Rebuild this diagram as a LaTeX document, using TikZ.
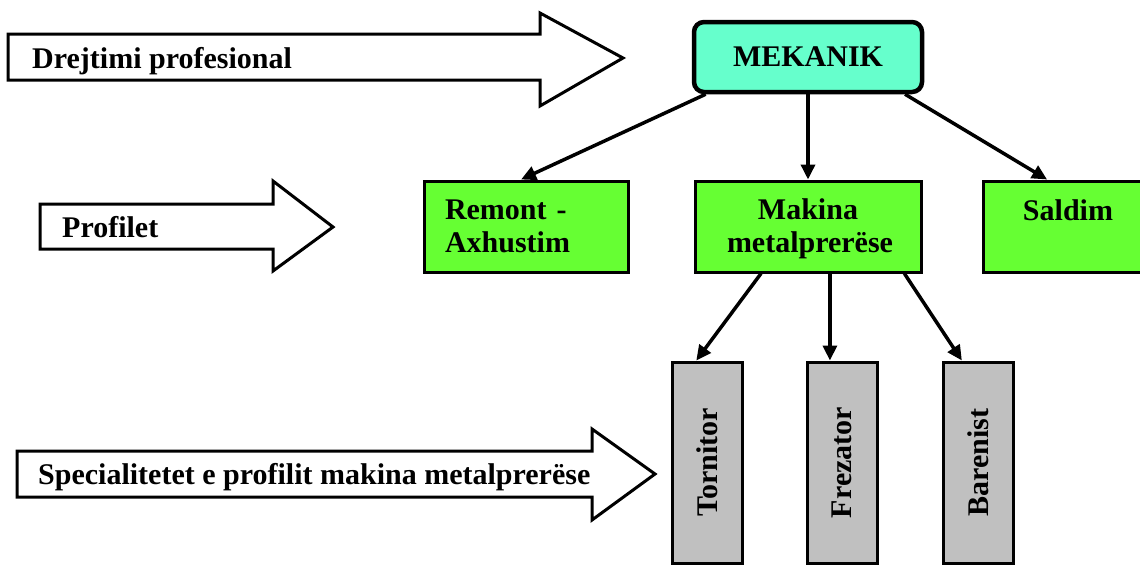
\documentclass[tikz,border=0pt]{standalone}
\usepackage{fontspec}
\setmainfont{Liberation Serif}
\usetikzlibrary{arrows.meta,calc,positioning}
\definecolor{mekcol}{HTML}{66FFCC}
\definecolor{profcol}{HTML}{66FF33}
\definecolor{speccol}{HTML}{C0C0C0}
\tikzset{
  topbox/.style={draw,line width=4.5pt,rounded corners=10pt,fill=mekcol,minimum width=228pt,minimum height=70pt},
  profbox/.style={draw,line width=3pt,fill=profcol,minimum width=204pt,minimum height=91pt,text width=162pt},
  specbox/.style={draw,line width=3pt,fill=speccol,minimum width=70pt,minimum height=201pt},
  bigarrow/.style={draw,line width=3pt,fill=white},
  conn/.style={-{Triangle[length=15pt,width=14pt]},line width=3.5pt},
  lbl/.style={anchor=base west,inner sep=0pt},
  every node/.style={font=\fontsize{30}{33}\selectfont\bfseries}
}

\begin{document}
\begin{tikzpicture}[x=1pt,y=-1pt]
\useasboundingbox (0,0) rectangle (1140,565);
\clip (0,0) rectangle (1140,565);

% block arrows on the left
\draw[bigarrow] (8,34) -- (540,34) -- (540,13) -- (623,58) -- (540,106) -- (540,80) -- (8,80) -- cycle;
\node[lbl] (drejt) at (32,68) {Drejtimi profesional};
\draw[bigarrow] (40,204) -- (273,204) -- (273,181) -- (333,227) -- (273,271) -- (273,249) -- (40,249) -- cycle;
\node[lbl] (prof) at (62,237) {Profilet};
\draw[bigarrow] (17,451) -- (592,451) -- (592,429) -- (655,474) -- (592,520) -- (592,497) -- (17,497) -- cycle;
\node[lbl] (spec) at (38,484) {Specialitetet e profilit makina metalprerëse};

% tree
\node[topbox] (mek) at (808,57) {MEKANIK};
\node[profbox,align=left] (rem) at (526,226.5) {Remont -\\Axhustim};
\node[profbox,align=center,minimum width=226pt,text height=26pt] (mak) at (808,226.5) {Makina\\metalprerëse};
\node[profbox,align=center,minimum width=160pt] (sal) at (1068,226.5) {Saldim\\\mbox{}};
\node[specbox] (tor) at (707,462.5) {\rotatebox{90}{Tornitor}};
\node[specbox] (fre) at (842,462.5) {\rotatebox{90}{Frezator}};
\node[specbox] (bar) at (978,462.5) {\rotatebox{90}{Barenist}};

% connectors
\draw[conn] (mek.200) -- (rem.96);
\draw[conn] (mek.south) -- (mek.south |- mak.north);
\draw[conn] (mek.-21) -- (sal.114);
\draw[conn] (mak.-135) -- (tor.96);
\draw[conn] (mak.-65) -- (mak.-65 |- fre.north);
\draw[conn] (mak.-26) -- (bar.99);
\end{tikzpicture}
\end{document}
